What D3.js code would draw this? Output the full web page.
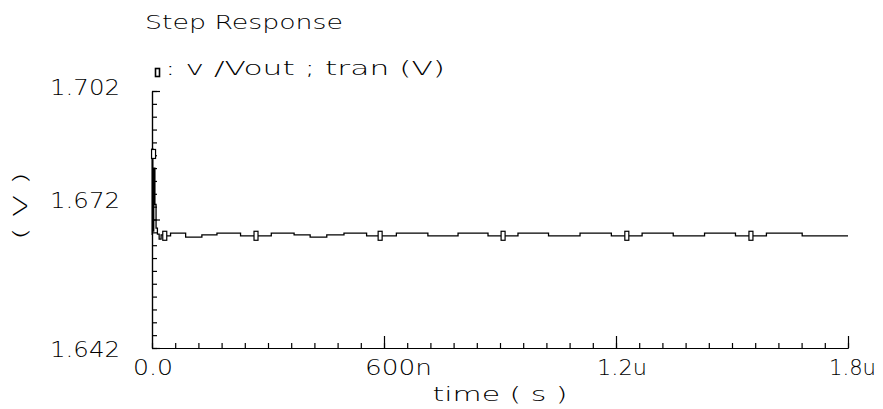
<!DOCTYPE html>
<html>
<head>
<meta charset="utf-8">
<script src="https://cdn.jsdelivr.net/npm/d3@7"></script>
<style>
  body { margin: 0; background: #fff; }
  text { font-family: "DejaVu Sans", sans-serif; font-weight: 200; fill: #000; }
</style>
</head>
<body>
<div id="plot"></div>
<script>
// transient output, time in ns, value in V
var timeNs = [0, 1, 3, 6, 9, 12, 16, 21, 26, 33,
  63, 111, 147, 189, 269, 348, 387, 431, 473, 520, 590, 674,
  753, 830, 908, 985, 1066, 1148, 1228, 1307, 1389, 1469, 1549, 1629, 1734, 1800];
var vout = [1.6684, 1.6885, 1.6693, 1.6840, 1.6755, 1.6700, 1.6686, 1.6674, 1.6684, 1.6682,
  1.6688, 1.6679, 1.6684, 1.6688, 1.6682, 1.6688, 1.6684, 1.6679, 1.6684, 1.6688, 1.6682, 1.6688,
  1.6682, 1.6688, 1.6682, 1.6688, 1.6682, 1.6688, 1.6682, 1.6688, 1.6682, 1.6688, 1.6682, 1.6688, 1.6682, 1.6682];

// symbol positions along the trace
var markTimeNs = [4, 33, 269, 590, 908, 1228, 1549];
var markV = [1.6873, 1.6682, 1.6682, 1.6682, 1.6682, 1.6682, 1.6682];

var xTickVals = [0, 600, 1200, 1800];
var xTickLabels = ["0.0", "600n", "1.2u", "1.8u"];
var yTickVals = [1.642, 1.672, 1.702];
var yTickLabels = ["1.642", "1.672", "1.702"];

var width = 883, height = 409;
var svg = d3.select("#plot").append("svg")
  .attr("width", width)
  .attr("height", height);

var x = d3.scaleLinear().domain([0, 1800]).range([152, 848]);
var y = d3.scaleLinear().domain([1.642, 1.702]).range([348, 91]);

// minor / major ticks
var xMinor = d3.range(0, 31).map(function(i) { return i * 60; });
var yMinor = d3.range(0, 21).map(function(i) { return 1.642 + i * 0.003; });

svg.append("g").attr("transform", "translate(0,348)")
  .call(d3.axisBottom(x).tickValues(xMinor).tickSize(-5).tickSizeOuter(0).tickFormat(""));
svg.append("g").attr("transform", "translate(0,348)")
  .call(d3.axisBottom(x).tickValues(xTickVals.slice(1)).tickSize(-12).tickSizeOuter(0).tickFormat(""));
svg.append("g").attr("transform", "translate(152,0)")
  .call(d3.axisLeft(y).tickValues(yMinor).tickSize(-5).tickSizeOuter(0).tickFormat(""));
svg.append("g").attr("transform", "translate(152,0)")
  .call(d3.axisLeft(y).tickValues(yTickVals).tickSize(-8).tickSizeOuter(0).tickFormat(""));
svg.selectAll(".domain, .tick line").attr("stroke", "#000").attr("stroke-width", 1.2);

// tick labels
var xLabW = [40, 67, 50, 47];
svg.selectAll(".xlab").data(xTickVals).enter().append("text")
  .attr("class", "xlab")
  .attr("x", function(d) { return x(d) - 19; })
  .attr("y", 375)
  .attr("font-size", 22)
  .attr("textLength", function(d, i) { return xLabW[i]; })
  .attr("lengthAdjust", "spacingAndGlyphs")
  .text(function(d, i) { return xTickLabels[i]; });

var yLabDy = [9, -11.5, 4];
svg.selectAll(".ylab").data(yTickVals).enter().append("text")
  .attr("class", "ylab")
  .attr("x", 120)
  .attr("y", function(d, i) { return y(d) + yLabDy[i]; })
  .attr("text-anchor", "end")
  .attr("font-size", 22)
  .attr("textLength", 70)
  .attr("lengthAdjust", "spacingAndGlyphs")
  .text(function(d, i) { return yTickLabels[i]; });

// trace
var pts = timeNs.map(function(t, i) { return [t, vout[i]]; });
var line = d3.line()
  .x(function(d) { return x(d[0]); })
  .y(function(d) { return y(d[1]); })
  .curve(d3.curveStep);
svg.append("path")
  .datum(pts)
  .attr("fill", "none")
  .attr("stroke", "#000")
  .attr("stroke-width", 1.3)
  .attr("d", line);

// symbols
svg.selectAll(".mark").data(markTimeNs).enter().append("rect")
  .attr("class", "mark")
  .attr("x", function(d) { return x(d) - 2; })
  .attr("y", function(d, i) { return y(markV[i]) - 4.5; })
  .attr("width", 4)
  .attr("height", 9)
  .attr("fill", "#fff")
  .attr("stroke", "#000")
  .attr("stroke-width", 1.2);

// title, legend, axis names
svg.append("text")
  .attr("x", 145).attr("y", 29)
  .attr("font-size", 20)
  .attr("textLength", 198).attr("lengthAdjust", "spacingAndGlyphs")
  .text("Step Response");

svg.append("rect")
  .attr("x", 155.5).attr("y", 68.5)
  .attr("width", 4).attr("height", 8)
  .attr("fill", "#fff").attr("stroke", "#000").attr("stroke-width", 1.6);
svg.append("text")
  .attr("x", 165).attr("y", 75)
  .attr("font-size", 20)
  .attr("textLength", 280).attr("lengthAdjust", "spacingAndGlyphs")
  .text(": v /Vout ; tran (V)");

svg.append("text")
  .attr("x", 500).attr("y", 401)
  .attr("text-anchor", "middle")
  .attr("font-size", 20)
  .attr("textLength", 135).attr("lengthAdjust", "spacingAndGlyphs")
  .text("time ( s )");

svg.append("text")
  .attr("transform", "translate(27,206) rotate(-90)")
  .attr("text-anchor", "middle")
  .attr("font-size", 20)
  .attr("textLength", 68).attr("lengthAdjust", "spacingAndGlyphs")
  .text("( V )");
</script>
</body>
</html>
